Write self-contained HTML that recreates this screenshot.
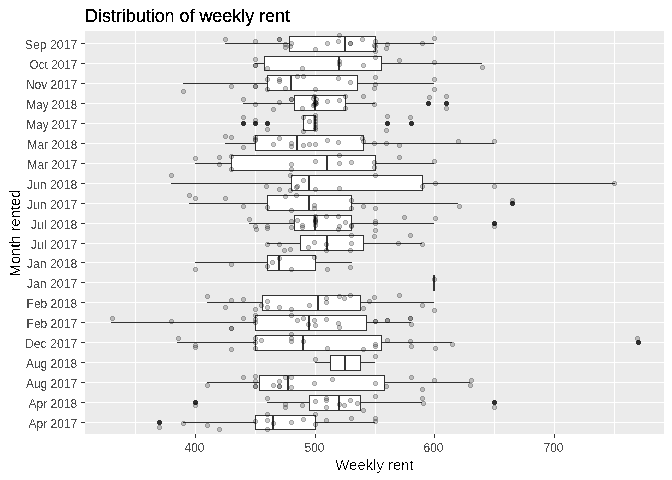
<!DOCTYPE html>
<html><head><meta charset="utf-8"><style>
html,body{margin:0;padding:0;background:#FFFFFF;width:672px;height:480px;overflow:hidden;font-family:"Liberation Sans",sans-serif}
</style></head><body>
<svg width="672" height="480" viewBox="0 0 672 480" style="display:block">
<defs>
<filter id="al" filterUnits="userSpaceOnUse" x="0" y="0" width="672" height="480"><feComponentTransfer><feFuncA type="discrete" tableValues="0 1"/></feComponentTransfer></filter>
<filter id="al3" filterUnits="userSpaceOnUse" x="0" y="0" width="672" height="480"><feComponentTransfer><feFuncA type="discrete" tableValues="0 1 1"/></feComponentTransfer></filter>
<filter id="al55" filterUnits="userSpaceOnUse" x="0" y="0" width="672" height="480"><feComponentTransfer><feFuncA type="discrete" tableValues="0 0 0 0 0 0 0 0 0 0 0 1 1 1 1 1 1 1 1 1"/></feComponentTransfer></filter>
<filter id="al6" filterUnits="userSpaceOnUse" x="0" y="0" width="672" height="480"><feComponentTransfer><feFuncA type="discrete" tableValues="0 0 1"/></feComponentTransfer></filter>
<g id="p"><path d="M-2 -1h5v3h-5z M-1 -2h3v1h-3z M-1 2h3v1h-3z"/><path d="M-1 -2h3v1h-3z M-1 2h3v1h-3z M-2 -1h1v3h-1z M2 -1h1v3h-1z"/></g>
<path id="o" d="M-2 -1h5v3h-5z M-1 -2h3v1h-3z M-1 2h3v1h-3z"/>
</defs>
<rect width="672" height="480" fill="#FFFFFF"/>
<g shape-rendering="crispEdges">
<rect x="85" y="31" width="579" height="403" fill="#EBEBEB"/>
<path d="M135 31h1V434h-1z M195 31h1V434h-1z M255 31h1V434h-1z M315 31h1V434h-1z M375 31h1V434h-1z M434 31h1V434h-1z M494 31h1V434h-1z M554 31h1V434h-1z M614 31h1V434h-1z M85 43H664v1H85z M85 63H664v1H85z M85 83H664v1H85z M85 103H664v1H85z M85 123H664v1H85z M85 143H664v1H85z M85 163H664v1H85z M85 183H664v1H85z M85 203H664v1H85z M85 223H664v1H85z M85 243H664v1H85z M85 262H664v1H85z M85 282H664v1H85z M85 302H664v1H85z M85 322H664v1H85z M85 342H664v1H85z M85 362H664v1H85z M85 382H664v1H85z M85 402H664v1H85z M85 422H664v1H85z" fill="#FFFFFF"/>
<path d="M289 36H376V52H289z M264 56H382V71H264z M267 75H358V91H267z M294 95H346V111H294z M303 115H316V131H303z M255 135H364V151H255z M231 155H376V171H231z M291 175H423V191H291z M267 195H352V211H267z M294 215H352V231H294z M300 235H364V251H300z M267 255H316V271H267z M262 295H361V311H262z M255 315H367V331H255z M255 335H382V351H255z M330 355H361V371H330z M259 375H385V391H259z M309 395H361V411H309z M255 415H316V430H255z" fill="#FFFFFF"/>
<path d="M225 43H289v1H225z M375 43H434v1H375z M289 36H376v1H289z M289 51H376v1H289z M289 36h1V52h-1z M375 36h1V52h-1z M255 63H264v1H255z M381 63H482v1H381z M264 56H382v1H264z M264 70H382v1H264z M264 56h1V71h-1z M381 56h1V71h-1z M183 83H267v1H183z M357 83H434v1H357z M267 75H358v1H267z M267 90H358v1H267z M267 75h1V91h-1z M357 75h1V91h-1z M243 103H294v1H243z M345 103H375v1H345z M294 95H346v1H294z M294 110H346v1H294z M294 95h1V111h-1z M345 95h1V111h-1z M303 115H316v1H303z M303 130H316v1H303z M303 115h1V131h-1z M315 115h1V131h-1z M225 143H255v1H225z M363 143H494v1H363z M255 135H364v1H255z M255 150H364v1H255z M255 135h1V151h-1z M363 135h1V151h-1z M195 163H231v1H195z M375 163H434v1H375z M231 155H376v1H231z M231 170H376v1H231z M231 155h1V171h-1z M375 155h1V171h-1z M171 183H291v1H171z M422 183H615v1H422z M291 175H423v1H291z M291 190H423v1H291z M291 175h1V191h-1z M422 175h1V191h-1z M189 203H267v1H189z M351 203H458v1H351z M267 195H352v1H267z M267 210H352v1H267z M267 195h1V211h-1z M351 195h1V211h-1z M249 223H294v1H249z M351 223H434v1H351z M294 215H352v1H294z M294 230H352v1H294z M294 215h1V231h-1z M351 215h1V231h-1z M267 243H300v1H267z M363 243H422v1H363z M300 235H364v1H300z M300 250H364v1H300z M300 235h1V251h-1z M363 235h1V251h-1z M195 262H267v1H195z M315 262H352v1H315z M267 255H316v1H267z M267 270H316v1H267z M267 255h1V271h-1z M315 255h1V271h-1z M207 302H262v1H207z M360 302H434v1H360z M262 295H361v1H262z M262 310H361v1H262z M262 295h1V311h-1z M360 295h1V311h-1z M111 322H255v1H111z M366 322H411v1H366z M255 315H367v1H255z M255 330H367v1H255z M255 315h1V331h-1z M366 315h1V331h-1z M177 342H255v1H177z M381 342H452v1H381z M255 335H382v1H255z M255 350H382v1H255z M255 335h1V351h-1z M381 335h1V351h-1z M315 362H330v1H315z M360 362H375v1H360z M330 355H361v1H330z M330 370H361v1H330z M330 355h1V371h-1z M360 355h1V371h-1z M207 382H259v1H207z M384 382H470v1H384z M259 375H385v1H259z M259 390H385v1H259z M259 375h1V391h-1z M384 375h1V391h-1z M267 402H309v1H267z M360 402H422v1H360z M309 395H361v1H309z M309 410H361v1H309z M309 395h1V411h-1z M360 395h1V411h-1z M183 422H255v1H183z M315 422H375v1H315z M255 415H316v1H255z M255 429H316v1H255z M255 415h1V430h-1z M315 415h1V430h-1z" fill="#333333"/>
<path d="M344 36h2V52h-2z M338 56h2V71h-2z M290 75h2V91h-2z M314 95h2V111h-2z M314 115h2V131h-2z M296 135h2V151h-2z M326 155h2V171h-2z M308 175h2V191h-2z M308 195h2V211h-2z M314 215h2V231h-2z M326 235h2V251h-2z M278 255h2V271h-2z M433 275h2V291h-2z M317 295h2V311h-2z M308 315h2V331h-2z M302 335h2V351h-2z M344 355h2V371h-2z M287 375h2V391h-2z M338 395h2V411h-2z M272 415h2V430h-2z" fill="#333333"/>
<g fill="#303030"><use href="#o" x="428" y="103"/><use href="#o" x="446" y="103"/><use href="#o" x="243" y="123"/><use href="#o" x="255" y="123"/><use href="#o" x="267" y="123"/><use href="#o" x="387" y="123"/><use href="#o" x="411" y="123"/><use href="#o" x="512" y="203"/><use href="#o" x="494" y="223"/><use href="#o" x="638" y="342"/><use href="#o" x="195" y="402"/><use href="#o" x="494" y="402"/><use href="#o" x="159" y="422"/></g>
<g fill="rgba(0,0,0,0.2)"><use href="#p" x="225" y="39"/>
<use href="#p" x="255" y="41"/>
<use href="#p" x="279" y="39"/>
<use href="#p" x="279" y="39"/>
<use href="#p" x="285" y="44"/>
<use href="#p" x="285" y="47"/>
<use href="#p" x="290" y="46"/>
<use href="#p" x="291" y="43"/>
<use href="#p" x="315" y="49"/>
<use href="#p" x="327" y="43"/>
<use href="#p" x="338" y="41"/>
<use href="#p" x="339" y="35"/>
<use href="#p" x="350" y="43"/>
<use href="#p" x="350" y="43"/>
<use href="#p" x="362" y="39"/>
<use href="#p" x="375" y="41"/>
<use href="#p" x="374" y="45"/>
<use href="#p" x="375" y="46"/>
<use href="#p" x="375" y="51"/>
<use href="#p" x="387" y="44"/>
<use href="#p" x="386" y="48"/>
<use href="#p" x="434" y="38"/>
<use href="#p" x="422" y="43"/>
<use href="#p" x="255" y="59"/>
<use href="#p" x="255" y="65"/>
<use href="#p" x="255" y="65"/>
<use href="#p" x="267" y="68"/>
<use href="#p" x="302" y="68"/>
<use href="#p" x="339" y="61"/>
<use href="#p" x="339" y="64"/>
<use href="#p" x="363" y="65"/>
<use href="#p" x="375" y="57"/>
<use href="#p" x="399" y="60"/>
<use href="#p" x="434" y="62"/>
<use href="#p" x="482" y="67"/>
<use href="#p" x="183" y="91"/>
<use href="#p" x="231" y="86"/>
<use href="#p" x="255" y="86"/>
<use href="#p" x="255" y="86"/>
<use href="#p" x="267" y="79"/>
<use href="#p" x="267" y="89"/>
<use href="#p" x="279" y="79"/>
<use href="#p" x="279" y="81"/>
<use href="#p" x="285" y="88"/>
<use href="#p" x="297" y="76"/>
<use href="#p" x="303" y="76"/>
<use href="#p" x="315" y="89"/>
<use href="#p" x="338" y="78"/>
<use href="#p" x="350" y="82"/>
<use href="#p" x="375" y="77"/>
<use href="#p" x="375" y="84"/>
<use href="#p" x="374" y="88"/>
<use href="#p" x="434" y="79"/>
<use href="#p" x="434" y="89"/>
<use href="#p" x="243" y="99"/>
<use href="#p" x="255" y="104"/>
<use href="#p" x="273" y="109"/>
<use href="#p" x="279" y="102"/>
<use href="#p" x="291" y="99"/>
<use href="#p" x="291" y="99"/>
<use href="#p" x="302" y="108"/>
<use href="#p" x="314" y="96"/>
<use href="#p" x="316" y="99"/>
<use href="#p" x="313" y="105"/>
<use href="#p" x="315" y="104"/>
<use href="#p" x="315" y="102"/>
<use href="#p" x="315" y="102"/>
<use href="#p" x="314" y="104"/>
<use href="#p" x="316" y="103"/>
<use href="#p" x="313" y="98"/>
<use href="#p" x="327" y="101"/>
<use href="#p" x="339" y="100"/>
<use href="#p" x="345" y="96"/>
<use href="#p" x="345" y="108"/>
<use href="#p" x="363" y="96"/>
<use href="#p" x="374" y="104"/>
<use href="#p" x="429" y="97"/>
<use href="#p" x="446" y="96"/>
<use href="#p" x="446" y="108"/>
<use href="#p" x="243" y="117"/>
<use href="#p" x="255" y="120"/>
<use href="#p" x="267" y="129"/>
<use href="#p" x="303" y="117"/>
<use href="#p" x="309" y="121"/>
<use href="#p" x="303" y="131"/>
<use href="#p" x="315" y="115"/>
<use href="#p" x="315" y="118"/>
<use href="#p" x="315" y="121"/>
<use href="#p" x="315" y="124"/>
<use href="#p" x="315" y="127"/>
<use href="#p" x="315" y="129"/>
<use href="#p" x="387" y="116"/>
<use href="#p" x="386" y="130"/>
<use href="#p" x="410" y="117"/>
<use href="#p" x="225" y="136"/>
<use href="#p" x="231" y="137"/>
<use href="#p" x="243" y="147"/>
<use href="#p" x="255" y="137"/>
<use href="#p" x="255" y="140"/>
<use href="#p" x="255" y="139"/>
<use href="#p" x="273" y="144"/>
<use href="#p" x="279" y="138"/>
<use href="#p" x="291" y="143"/>
<use href="#p" x="291" y="146"/>
<use href="#p" x="303" y="145"/>
<use href="#p" x="309" y="144"/>
<use href="#p" x="315" y="144"/>
<use href="#p" x="327" y="140"/>
<use href="#p" x="338" y="142"/>
<use href="#p" x="362" y="138"/>
<use href="#p" x="363" y="141"/>
<use href="#p" x="374" y="143"/>
<use href="#p" x="386" y="143"/>
<use href="#p" x="399" y="145"/>
<use href="#p" x="458" y="141"/>
<use href="#p" x="494" y="141"/>
<use href="#p" x="195" y="158"/>
<use href="#p" x="219" y="157"/>
<use href="#p" x="219" y="164"/>
<use href="#p" x="231" y="156"/>
<use href="#p" x="231" y="169"/>
<use href="#p" x="291" y="164"/>
<use href="#p" x="291" y="169"/>
<use href="#p" x="315" y="161"/>
<use href="#p" x="339" y="155"/>
<use href="#p" x="339" y="163"/>
<use href="#p" x="351" y="162"/>
<use href="#p" x="374" y="162"/>
<use href="#p" x="374" y="167"/>
<use href="#p" x="399" y="157"/>
<use href="#p" x="434" y="161"/>
<use href="#p" x="171" y="175"/>
<use href="#p" x="266" y="186"/>
<use href="#p" x="279" y="189"/>
<use href="#p" x="290" y="175"/>
<use href="#p" x="290" y="190"/>
<use href="#p" x="303" y="180"/>
<use href="#p" x="297" y="186"/>
<use href="#p" x="296" y="187"/>
<use href="#p" x="315" y="189"/>
<use href="#p" x="339" y="188"/>
<use href="#p" x="375" y="175"/>
<use href="#p" x="422" y="186"/>
<use href="#p" x="435" y="183"/>
<use href="#p" x="494" y="186"/>
<use href="#p" x="614" y="183"/>
<use href="#p" x="189" y="195"/>
<use href="#p" x="195" y="198"/>
<use href="#p" x="225" y="198"/>
<use href="#p" x="243" y="206"/>
<use href="#p" x="267" y="207"/>
<use href="#p" x="285" y="196"/>
<use href="#p" x="291" y="210"/>
<use href="#p" x="296" y="195"/>
<use href="#p" x="314" y="205"/>
<use href="#p" x="314" y="208"/>
<use href="#p" x="351" y="200"/>
<use href="#p" x="351" y="208"/>
<use href="#p" x="363" y="206"/>
<use href="#p" x="375" y="208"/>
<use href="#p" x="459" y="206"/>
<use href="#p" x="512" y="200"/>
<use href="#p" x="249" y="219"/>
<use href="#p" x="255" y="226"/>
<use href="#p" x="256" y="229"/>
<use href="#p" x="267" y="226"/>
<use href="#p" x="267" y="228"/>
<use href="#p" x="291" y="221"/>
<use href="#p" x="291" y="227"/>
<use href="#p" x="297" y="220"/>
<use href="#p" x="302" y="225"/>
<use href="#p" x="302" y="227"/>
<use href="#p" x="315" y="216"/>
<use href="#p" x="315" y="219"/>
<use href="#p" x="315" y="222"/>
<use href="#p" x="315" y="225"/>
<use href="#p" x="315" y="220"/>
<use href="#p" x="315" y="221"/>
<use href="#p" x="326" y="216"/>
<use href="#p" x="338" y="216"/>
<use href="#p" x="345" y="222"/>
<use href="#p" x="339" y="226"/>
<use href="#p" x="338" y="229"/>
<use href="#p" x="351" y="225"/>
<use href="#p" x="351" y="226"/>
<use href="#p" x="375" y="221"/>
<use href="#p" x="375" y="223"/>
<use href="#p" x="375" y="230"/>
<use href="#p" x="404" y="217"/>
<use href="#p" x="435" y="218"/>
<use href="#p" x="494" y="226"/>
<use href="#p" x="267" y="244"/>
<use href="#p" x="279" y="244"/>
<use href="#p" x="284" y="250"/>
<use href="#p" x="290" y="249"/>
<use href="#p" x="308" y="247"/>
<use href="#p" x="314" y="242"/>
<use href="#p" x="326" y="244"/>
<use href="#p" x="326" y="250"/>
<use href="#p" x="351" y="235"/>
<use href="#p" x="351" y="243"/>
<use href="#p" x="350" y="250"/>
<use href="#p" x="374" y="236"/>
<use href="#p" x="398" y="243"/>
<use href="#p" x="410" y="235"/>
<use href="#p" x="422" y="244"/>
<use href="#p" x="195" y="269"/>
<use href="#p" x="231" y="264"/>
<use href="#p" x="267" y="266"/>
<use href="#p" x="272" y="262"/>
<use href="#p" x="279" y="258"/>
<use href="#p" x="291" y="269"/>
<use href="#p" x="314" y="257"/>
<use href="#p" x="327" y="269"/>
<use href="#p" x="350" y="267"/>
<use href="#p" x="434" y="279"/>
<use href="#p" x="207" y="296"/>
<use href="#p" x="225" y="307"/>
<use href="#p" x="231" y="300"/>
<use href="#p" x="243" y="299"/>
<use href="#p" x="255" y="309"/>
<use href="#p" x="261" y="305"/>
<use href="#p" x="267" y="301"/>
<use href="#p" x="267" y="307"/>
<use href="#p" x="279" y="307"/>
<use href="#p" x="291" y="309"/>
<use href="#p" x="309" y="305"/>
<use href="#p" x="326" y="298"/>
<use href="#p" x="326" y="302"/>
<use href="#p" x="339" y="296"/>
<use href="#p" x="344" y="298"/>
<use href="#p" x="350" y="295"/>
<use href="#p" x="363" y="308"/>
<use href="#p" x="369" y="301"/>
<use href="#p" x="374" y="297"/>
<use href="#p" x="399" y="295"/>
<use href="#p" x="422" y="305"/>
<use href="#p" x="434" y="310"/>
<use href="#p" x="112" y="318"/>
<use href="#p" x="171" y="321"/>
<use href="#p" x="231" y="328"/>
<use href="#p" x="231" y="328"/>
<use href="#p" x="243" y="318"/>
<use href="#p" x="255" y="315"/>
<use href="#p" x="255" y="319"/>
<use href="#p" x="255" y="322"/>
<use href="#p" x="291" y="315"/>
<use href="#p" x="297" y="320"/>
<use href="#p" x="303" y="318"/>
<use href="#p" x="308" y="324"/>
<use href="#p" x="314" y="320"/>
<use href="#p" x="315" y="325"/>
<use href="#p" x="326" y="319"/>
<use href="#p" x="338" y="323"/>
<use href="#p" x="339" y="327"/>
<use href="#p" x="375" y="321"/>
<use href="#p" x="375" y="321"/>
<use href="#p" x="387" y="320"/>
<use href="#p" x="387" y="320"/>
<use href="#p" x="410" y="318"/>
<use href="#p" x="410" y="318"/>
<use href="#p" x="411" y="324"/>
<use href="#p" x="178" y="338"/>
<use href="#p" x="195" y="345"/>
<use href="#p" x="195" y="347"/>
<use href="#p" x="231" y="349"/>
<use href="#p" x="255" y="338"/>
<use href="#p" x="255" y="342"/>
<use href="#p" x="255" y="348"/>
<use href="#p" x="261" y="340"/>
<use href="#p" x="291" y="334"/>
<use href="#p" x="291" y="338"/>
<use href="#p" x="291" y="341"/>
<use href="#p" x="303" y="341"/>
<use href="#p" x="327" y="348"/>
<use href="#p" x="363" y="349"/>
<use href="#p" x="375" y="344"/>
<use href="#p" x="375" y="346"/>
<use href="#p" x="387" y="340"/>
<use href="#p" x="410" y="341"/>
<use href="#p" x="411" y="346"/>
<use href="#p" x="435" y="348"/>
<use href="#p" x="452" y="344"/>
<use href="#p" x="637" y="338"/>
<use href="#p" x="315" y="359"/>
<use href="#p" x="375" y="356"/>
<use href="#p" x="207" y="385"/>
<use href="#p" x="243" y="377"/>
<use href="#p" x="255" y="376"/>
<use href="#p" x="255" y="381"/>
<use href="#p" x="255" y="386"/>
<use href="#p" x="255" y="386"/>
<use href="#p" x="273" y="385"/>
<use href="#p" x="279" y="381"/>
<use href="#p" x="279" y="386"/>
<use href="#p" x="279" y="386"/>
<use href="#p" x="285" y="377"/>
<use href="#p" x="291" y="377"/>
<use href="#p" x="291" y="387"/>
<use href="#p" x="314" y="383"/>
<use href="#p" x="332" y="379"/>
<use href="#p" x="375" y="383"/>
<use href="#p" x="386" y="386"/>
<use href="#p" x="411" y="377"/>
<use href="#p" x="422" y="389"/>
<use href="#p" x="434" y="380"/>
<use href="#p" x="471" y="380"/>
<use href="#p" x="470" y="385"/>
<use href="#p" x="195" y="405"/>
<use href="#p" x="267" y="398"/>
<use href="#p" x="285" y="404"/>
<use href="#p" x="285" y="407"/>
<use href="#p" x="302" y="405"/>
<use href="#p" x="315" y="401"/>
<use href="#p" x="326" y="398"/>
<use href="#p" x="326" y="400"/>
<use href="#p" x="326" y="407"/>
<use href="#p" x="339" y="404"/>
<use href="#p" x="344" y="405"/>
<use href="#p" x="350" y="400"/>
<use href="#p" x="357" y="403"/>
<use href="#p" x="363" y="410"/>
<use href="#p" x="375" y="396"/>
<use href="#p" x="422" y="398"/>
<use href="#p" x="423" y="403"/>
<use href="#p" x="494" y="407"/>
<use href="#p" x="159" y="427"/>
<use href="#p" x="183" y="423"/>
<use href="#p" x="207" y="425"/>
<use href="#p" x="219" y="429"/>
<use href="#p" x="255" y="421"/>
<use href="#p" x="267" y="414"/>
<use href="#p" x="267" y="420"/>
<use href="#p" x="267" y="429"/>
<use href="#p" x="273" y="423"/>
<use href="#p" x="291" y="422"/>
<use href="#p" x="303" y="419"/>
<use href="#p" x="315" y="414"/>
<use href="#p" x="315" y="424"/>
<use href="#p" x="326" y="420"/>
<use href="#p" x="351" y="418"/>
<use href="#p" x="375" y="418"/>
<use href="#p" x="375" y="421"/></g>
<path d="M81 43h4v1h-4z M81 63h4v1h-4z M81 83h4v1h-4z M81 103h4v1h-4z M81 123h4v1h-4z M81 143h4v1h-4z M81 163h4v1h-4z M81 183h4v1h-4z M81 203h4v1h-4z M81 223h4v1h-4z M81 243h4v1h-4z M81 262h4v1h-4z M81 282h4v1h-4z M81 302h4v1h-4z M81 322h4v1h-4z M81 342h4v1h-4z M81 362h4v1h-4z M81 382h4v1h-4z M81 402h4v1h-4z M81 422h4v1h-4z M195 434h1v4h-1z M315 434h1v4h-1z M434 434h1v4h-1z M554 434h1v4h-1z" fill="#333333"/>
</g>
<g filter="url(#al)" font-family="'Liberation Sans', sans-serif" font-size="12" fill="#4D4D4D">
<text x="77.31" y="49.0" text-anchor="end" textLength="52.42" lengthAdjust="spacingAndGlyphs">Sep 2017</text>
<text x="77.29" y="69.0" text-anchor="end" textLength="47.69" lengthAdjust="spacingAndGlyphs">Oct 2017</text>
<text x="77.30" y="89.0" text-anchor="end" textLength="51.38" lengthAdjust="spacingAndGlyphs">Nov 2017</text>
<text x="77.29" y="109.0" text-anchor="end" textLength="50.68" lengthAdjust="spacingAndGlyphs">May 2018</text>
<text x="77.29" y="129.0" text-anchor="end" textLength="50.68" lengthAdjust="spacingAndGlyphs">May 2017</text>
<text x="77.29" y="149.0" text-anchor="end" textLength="49.69" lengthAdjust="spacingAndGlyphs">Mar 2018</text>
<text x="77.29" y="169.0" text-anchor="end" textLength="49.69" lengthAdjust="spacingAndGlyphs">Mar 2017</text>
<text x="77.31" y="189.0" text-anchor="end" textLength="50.45" lengthAdjust="spacingAndGlyphs">Jun 2018</text>
<text x="77.31" y="209.0" text-anchor="end" textLength="50.45" lengthAdjust="spacingAndGlyphs">Jun 2017</text>
<text x="77.31" y="229.0" text-anchor="end" textLength="46.44" lengthAdjust="spacingAndGlyphs">Jul 2018</text>
<text x="77.31" y="249.0" text-anchor="end" textLength="46.44" lengthAdjust="spacingAndGlyphs">Jul 2017</text>
<text x="77.31" y="268.0" text-anchor="end" textLength="50.45" lengthAdjust="spacingAndGlyphs">Jan 2018</text>
<text x="77.31" y="288.0" text-anchor="end" textLength="50.45" lengthAdjust="spacingAndGlyphs">Jan 2017</text>
<text x="77.30" y="308.0" text-anchor="end" textLength="50.72" lengthAdjust="spacingAndGlyphs">Feb 2018</text>
<text x="77.30" y="328.0" text-anchor="end" textLength="50.72" lengthAdjust="spacingAndGlyphs">Feb 2017</text>
<text x="77.31" y="348.0" text-anchor="end" textLength="52.40" lengthAdjust="spacingAndGlyphs">Dec 2017</text>
<text x="77.30" y="368.0" text-anchor="end" textLength="51.39" lengthAdjust="spacingAndGlyphs">Aug 2018</text>
<text x="77.30" y="388.0" text-anchor="end" textLength="51.39" lengthAdjust="spacingAndGlyphs">Aug 2017</text>
<text x="77.30" y="408.0" text-anchor="end" textLength="48.70" lengthAdjust="spacingAndGlyphs">Apr 2018</text>
<text x="77.30" y="428.0" text-anchor="end" textLength="48.70" lengthAdjust="spacingAndGlyphs">Apr 2017</text>
<text x="194.5" y="452" text-anchor="middle">400</text>
<text x="314.5" y="452" text-anchor="middle">500</text>
<text x="433.5" y="452" text-anchor="middle">600</text>
<text x="553.5" y="452" text-anchor="middle">700</text>
</g>
<text x="85" y="22" filter="url(#al3)" font-family="'Liberation Sans', sans-serif" font-size="18" fill="#000000" textLength="205.0" lengthAdjust="spacingAndGlyphs">Distribution of weekly rent</text>
<g filter="url(#al6)" font-family="'Liberation Sans', sans-serif" font-size="15" fill="#000000">
<text x="374.5" y="470" text-anchor="middle" textLength="78.3" lengthAdjust="spacingAndGlyphs">Weekly rent</text>
</g>
<g filter="url(#al55)" font-family="'Liberation Sans', sans-serif" font-size="15" fill="#000000">
<text transform="translate(20,233.0) rotate(-90)" text-anchor="middle" textLength="86.8" lengthAdjust="spacingAndGlyphs">Month rented</text>
</g>
</svg>
</body></html>
